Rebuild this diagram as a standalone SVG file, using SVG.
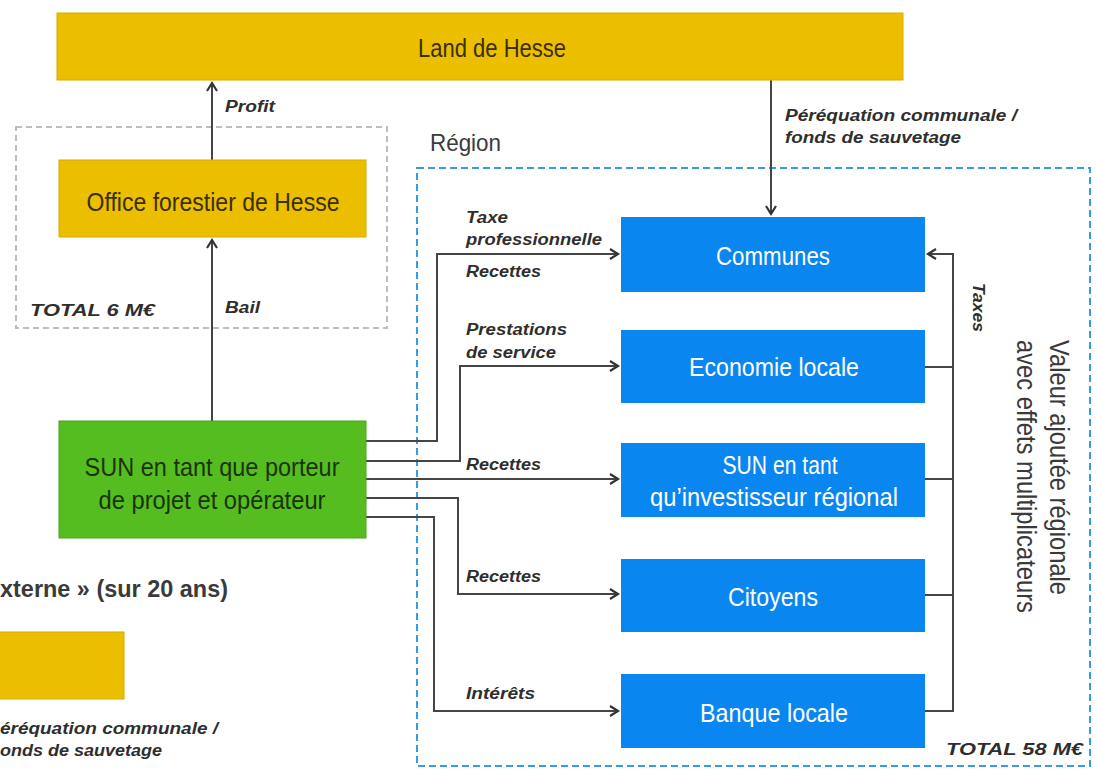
<svg xmlns="http://www.w3.org/2000/svg" width="1096" height="778" viewBox="0 0 1096 778">
<style>
.yel{fill:#EBBF00;stroke:#D6AC00;stroke-width:1}
.blu{fill:#0A86F0}
.grn{fill:#55BD1F;stroke:#47A616;stroke-width:1}
.big{font-family:"Liberation Sans",Arial,sans-serif;font-size:26px}
.dk{fill:#3A2F00}
.gt{fill:#1C3308}
.wt{fill:#FFFFFF}
.lbl{font-family:"Liberation Sans",Arial,sans-serif;font-size:16px;font-weight:bold;font-style:italic;fill:#2E2E2E}
.reg{font-family:"Liberation Sans",Arial,sans-serif;fill:#3A3A3A}
.con{fill:none;stroke:#454545;stroke-width:2}
</style>
<defs>
<marker id="ah" markerUnits="userSpaceOnUse" markerWidth="14" markerHeight="14" refX="10" refY="6" orient="auto">
<path d="M2,1 L10,6 L2,11" fill="none" stroke="#333" stroke-width="2.2"/>
</marker>
</defs>
<rect width="1096" height="778" fill="#FFFFFF"/>

<rect x="16" y="127" width="371" height="201" fill="none" stroke="#BDBDBD" stroke-width="2" stroke-dasharray="6,4"/>
<rect x="417" y="168" width="673" height="598" fill="none" stroke="#3A9BE2" stroke-width="2" stroke-dasharray="7,4"/>

<g id="connectors">
<path class="con" d="M212,160 V83" marker-end="url(#ah)"/>
<path class="con" d="M212,421 V240" marker-end="url(#ah)"/>
<path class="con" d="M771,80 V214" marker-end="url(#ah)"/>
<path class="con" d="M366,441 H437 V254 H618" marker-end="url(#ah)"/>
<path class="con" d="M366,461 H460 V366 H618" marker-end="url(#ah)"/>
<path class="con" d="M366,479 H618" marker-end="url(#ah)"/>
<path class="con" d="M366,498 H458 V594 H618" marker-end="url(#ah)"/>
<path class="con" d="M366,517 H434 V711 H618" marker-end="url(#ah)"/>
<path class="con" d="M925,711 H953 V254 H928" marker-end="url(#ah)"/>
<path class="con" d="M925,367 H953 M925,479 H953 M925,595 H953"/>
<text class="lbl" x="225" y="112" textLength="50" lengthAdjust="spacingAndGlyphs">Profit</text>
<text class="lbl" x="225" y="313" textLength="35" lengthAdjust="spacingAndGlyphs">Bail</text>
<text class="lbl" x="785" y="121" textLength="232" lengthAdjust="spacingAndGlyphs">Péréquation communale /</text>
<text class="lbl" x="785" y="143" textLength="176" lengthAdjust="spacingAndGlyphs">fonds de sauvetage</text>
<text class="lbl" x="466" y="223" textLength="42" lengthAdjust="spacingAndGlyphs">Taxe</text>
<text class="lbl" x="466" y="245" textLength="136" lengthAdjust="spacingAndGlyphs">professionnelle</text>
<text class="lbl" x="466" y="277" textLength="75" lengthAdjust="spacingAndGlyphs">Recettes</text>
<text class="lbl" x="466" y="335" textLength="101" lengthAdjust="spacingAndGlyphs">Prestations</text>
<text class="lbl" x="466" y="358" textLength="90" lengthAdjust="spacingAndGlyphs">de service</text>
<text class="lbl" x="466" y="470" textLength="75" lengthAdjust="spacingAndGlyphs">Recettes</text>
<text class="lbl" x="466" y="582" textLength="75" lengthAdjust="spacingAndGlyphs">Recettes</text>
<text class="lbl" x="466" y="699" textLength="69" lengthAdjust="spacingAndGlyphs">Intérêts</text>
<text class="lbl" transform="translate(973,283) rotate(90)" font-size="14" textLength="49" lengthAdjust="spacingAndGlyphs">Taxes</text>
</g>

<g id="land">
<rect class="yel" x="57" y="13" width="846" height="67"/>
<text class="big dk" x="492" y="57" text-anchor="middle" textLength="148" lengthAdjust="spacingAndGlyphs">Land de Hesse</text>
</g>
<g id="office">
<rect class="yel" x="59" y="160" width="307" height="77"/>
<text class="big dk" x="213" y="211" text-anchor="middle" textLength="253" lengthAdjust="spacingAndGlyphs">Office forestier de Hesse</text>
</g>
<g id="sun">
<rect class="grn" x="59" y="421" width="307" height="117"/>
<text class="big gt" x="212" y="476" text-anchor="middle" textLength="255" lengthAdjust="spacingAndGlyphs">SUN en tant que porteur</text>
<text class="big gt" x="212" y="509" text-anchor="middle" textLength="227" lengthAdjust="spacingAndGlyphs">de projet et opérateur</text>
</g>
<g id="communes">
<rect class="blu" x="621" y="217" width="304" height="75"/>
<text class="big wt" x="773" y="265" text-anchor="middle" textLength="114" lengthAdjust="spacingAndGlyphs">Communes</text>
</g>
<g id="economie">
<rect class="blu" x="621" y="330" width="304" height="73"/>
<text class="big wt" x="774" y="376" text-anchor="middle" textLength="170" lengthAdjust="spacingAndGlyphs">Economie locale</text>
</g>
<g id="investisseur">
<rect class="blu" x="621" y="443" width="304" height="74"/>
<text class="big wt" x="780" y="474" text-anchor="middle" textLength="115" lengthAdjust="spacingAndGlyphs">SUN en tant</text>
<text class="big wt" x="774" y="506" text-anchor="middle" textLength="248" lengthAdjust="spacingAndGlyphs">qu’investisseur régional</text>
</g>
<g id="citoyens">
<rect class="blu" x="621" y="559" width="304" height="73"/>
<text class="big wt" x="773" y="606" text-anchor="middle" textLength="90" lengthAdjust="spacingAndGlyphs">Citoyens</text>
</g>
<g id="banque">
<rect class="blu" x="621" y="674" width="304" height="74"/>
<text class="big wt" x="774" y="722" text-anchor="middle" textLength="148" lengthAdjust="spacingAndGlyphs">Banque locale</text>
</g>

<g id="labels">
<text class="lbl" x="30" y="316" font-size="17" textLength="125" lengthAdjust="spacingAndGlyphs">TOTAL 6 M€</text>
<text class="lbl" x="1083" y="755" font-size="17" text-anchor="end" textLength="137" lengthAdjust="spacingAndGlyphs">TOTAL 58 M€</text>
<text class="reg" x="430" y="151" font-size="24" textLength="71" lengthAdjust="spacingAndGlyphs">Région</text>
<text class="reg" transform="translate(1050,340) rotate(90)" font-size="27" textLength="255" lengthAdjust="spacingAndGlyphs">Valeur ajoutée régionale</text>
<text class="reg" transform="translate(1017,340) rotate(90)" font-size="27" textLength="273" lengthAdjust="spacingAndGlyphs">avec effets multiplicateurs</text>
</g>

<g id="legend">
<text class="reg" x="0" y="597" font-size="24" font-weight="bold" fill="#2A2A2A" textLength="228" lengthAdjust="spacingAndGlyphs">xterne » (sur 20 ans)</text>
<rect class="yel" x="-2" y="632" width="126" height="67"/>
<text class="lbl" x="0" y="734" textLength="218" lengthAdjust="spacingAndGlyphs">éréquation communale /</text>
<text class="lbl" x="0" y="756" textLength="162" lengthAdjust="spacingAndGlyphs">onds de sauvetage</text>
</g>
</svg>
